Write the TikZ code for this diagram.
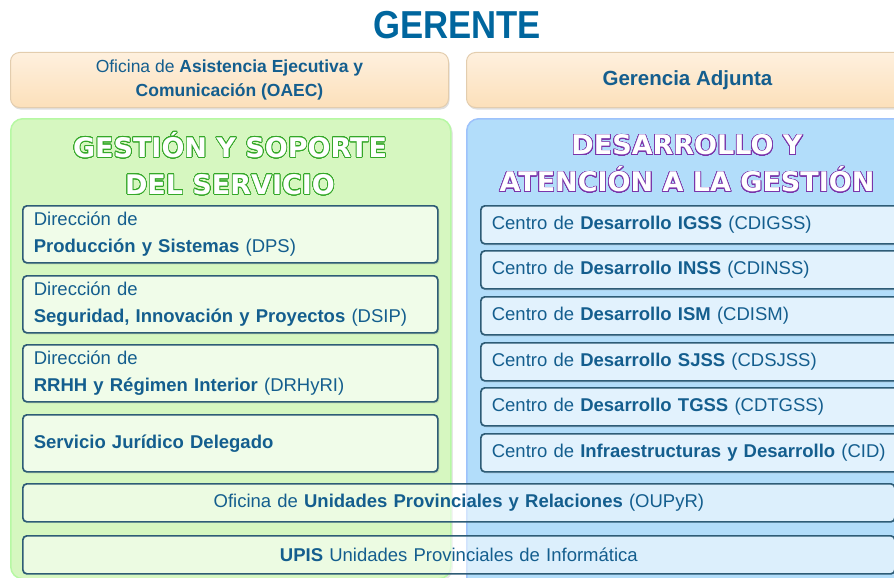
\documentclass[tikz,border=0pt]{standalone}
\usepackage{fontspec}
\setmainfont{Liberation Sans}
\newfontfamily\headfont{DejaVu Sans}
\usepackage{contour}
\contournumber{32}
\contourlength{0.7pt}
\usetikzlibrary{shadows}

\definecolor{txtblue}{RGB}{20,94,142}
\definecolor{gerblue}{RGB}{0,102,158}
\definecolor{peach}{RGB}{252,224,186}
\definecolor{peachtop}{RGB}{254,240,222}
\definecolor{panelgreen}{RGB}{214,247,192}
\definecolor{panelblue}{RGB}{178,221,250}
\definecolor{boxgreen}{RGB}{240,252,233}
\definecolor{boxblue}{RGB}{226,242,253}
\definecolor{boxline}{RGB}{46,92,118}
\definecolor{headgreen}{RGB}{52,168,40}
\definecolor{headpurple}{RGB}{122,52,170}

\tikzset{
  topbox/.style={rounded corners=9pt, top color=peachtop, bottom color=peach,
    draw=peach!80!gray, line width=1pt, text=txtblue, align=center,
    drop shadow={opacity=0.25, shadow xshift=1pt, shadow yshift=-2pt}},
  panel/.style={rounded corners=12pt, anchor=north west, line width=1.5pt,
    drop shadow={opacity=0.2, shadow xshift=2pt, shadow yshift=-2pt}},
  unitbox/.style={draw=boxline, line width=1.7pt, rounded corners=4pt, anchor=north west,
    inner xsep=11pt, text=txtblue, align=left,
    font=\fontsize{18.5}{27}\selectfont,
    drop shadow={opacity=0.25, shadow xshift=1.5pt, shadow yshift=-1.5pt}},
  wide/.style={draw=boxline, line width=1.7pt, rounded corners=4pt, anchor=north west,
    text=txtblue, font=\fontsize{18.5}{27}\selectfont,
    fill=white, fill opacity=0.55, text opacity=1, align=center,
    minimum width=872pt, minimum height=38pt, text width=850pt},
  headtext/.style={font=\headfont\bfseries\fontsize{27}{37}\selectfont, align=center}
}

\begin{document}
\begin{tikzpicture}[x=1pt,y=-1pt]
  \clip (0,0) rectangle (894,578);

  \node[font=\bfseries\fontsize{39}{39}\selectfont, text=gerblue, xscale=0.89] (gerente) at (457,25) {GERENTE};

  % oficinas de apoyo
  \node[topbox, minimum width=438pt, minimum height=55pt, anchor=north west,
        font=\fontsize{17.5}{24}\selectfont] (oaec) at (10,52)
        {Oficina de \textbf{Asistencia Ejecutiva y}\\ \textbf{Comunicación (OAEC)}};
  \node[topbox, minimum width=442pt, minimum height=55pt, anchor=north west,
        font=\bfseries\fontsize{20.5}{24}\selectfont] (adjunta) at (466,52) {Gerencia Adjunta};

  % paneles
  \node[panel, fill=panelgreen, draw=panelgreen!85!green, minimum width=440pt, minimum height=460pt] (gestion) at (10,118) {};
  \node[panel, fill=panelblue, draw=panelblue!88!blue, minimum width=450pt, minimum height=480pt] (desarrollo) at (466,118) {};

  \node[headtext] (tgestion) at (230,164)
    {{\color{white}\contour{headgreen}{GESTIÓN Y SOPORTE}}\\{\color{white}\contour{headgreen}{DEL SERVICIO}}};
  \node[headtext] (tdesarrollo) at (687,164)
    {{\color{white}\contour{headpurple}{DESARROLLO Y}}\\{\color{white}\contour{headpurple}{ATENCIÓN A LA GESTIÓN}}};

  % direcciones
  \node[unitbox, fill=boxgreen, text width=393pt, minimum height=57pt] (dps) at (22,205)
    {Dirección de\\\textbf{Producción y Sistemas} (DPS)};
  \node[unitbox, fill=boxgreen, text width=393pt, minimum height=57pt] (dsip) at (22,275)
    {Dirección de\\\textbf{Seguridad, Innovación y Proyectos} (DSIP)};
  \node[unitbox, fill=boxgreen, text width=393pt, minimum height=57pt] (drhyri) at (22,344)
    {Dirección de\\\textbf{RRHH y Régimen Interior} (DRHyRI)};
  \node[unitbox, fill=boxgreen, text width=393pt, minimum height=57pt] (sjd) at (22,414)
    {\textbf{Servicio Jurídico Delegado}};

  % centros
  \node[unitbox, fill=boxblue, text width=410pt, minimum height=38pt] (cdigss) at (480,205)
    {Centro de \textbf{Desarrollo IGSS} (CDIGSS)};
  \node[unitbox, fill=boxblue, text width=410pt, minimum height=38pt] (cdinss) at (480,250)
    {Centro de \textbf{Desarrollo INSS} (CDINSS)};
  \node[unitbox, fill=boxblue, text width=410pt, minimum height=38pt] (cdism) at (480,296)
    {Centro de \textbf{Desarrollo ISM} (CDISM)};
  \node[unitbox, fill=boxblue, text width=410pt, minimum height=38pt] (cdsjss) at (480,342)
    {Centro de \textbf{Desarrollo SJSS} (CDSJSS)};
  \node[unitbox, fill=boxblue, text width=410pt, minimum height=38pt] (cdtgss) at (480,387)
    {Centro de \textbf{Desarrollo TGSS} (CDTGSS)};
  \node[unitbox, fill=boxblue, text width=410pt, minimum height=38pt] (cid) at (480,433)
    {Centro de \textbf{Infraestructuras y Desarrollo} (CID)};

  % oficinas comunes
  \node[wide] (oupyr) at (22,483)
    {Oficina de \textbf{Unidades Provinciales y Relaciones} (OUPyR)};
  \node[wide] (upis) at (22,535)
    {\textbf{UPIS} Unidades Provinciales de Informática};
\end{tikzpicture}
\end{document}
